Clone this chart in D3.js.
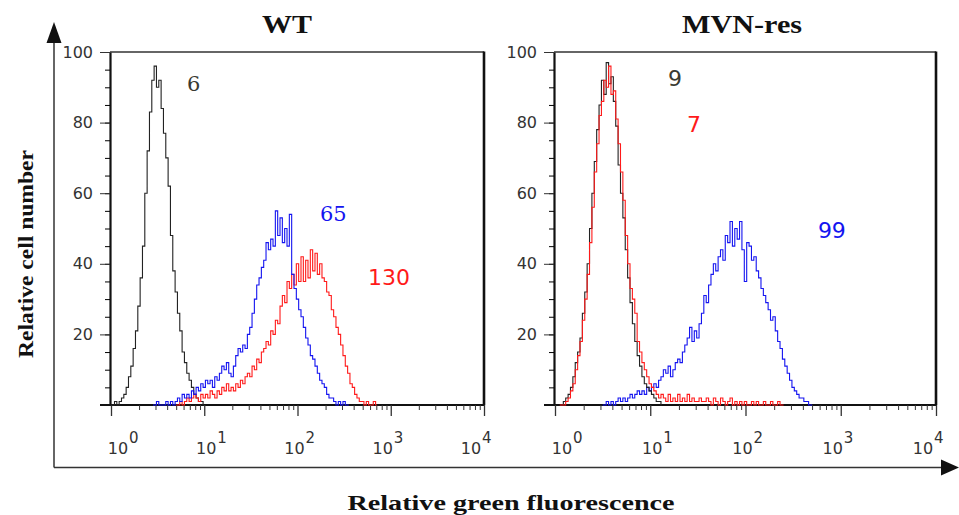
<!DOCTYPE html>
<html>
<head>
<meta charset="utf-8">
<script src="https://d3js.org/d3.v7.min.js"></script>
<style>
  body { margin: 0; background: #fff; }
</style>
</head>
<body>
<script>
// histogram channel width, in decades of fluorescence
var step = 0.025;

// WT panel: log10 start of each series, then counts per channel
var wtControlStart = 0.0;
var wtControl = [0, 0, 1, 0, 1, 2, 3, 5, 8, 11, 16, 21, 28, 36, 45, 60, 72, 83, 92, 96,
  90, 92, 84, 77, 70, 62, 48, 38, 32, 26, 21, 15, 12, 9, 7, 5, 3, 2, 1, 1, 0];

var wtBlueStart = 0.45;
var wtBlue = [0, 0, 1, 0, 0, 0, 1, 0, 1, 0, 1, 2, 1, 3, 2, 3, 2, 4, 3, 5,
  4, 6, 5, 7, 6, 7, 5, 8, 7, 9, 11, 10, 12, 9, 8, 11, 14, 16, 15, 17,
  16, 20, 22, 26, 30, 34, 36, 39, 41, 46, 44, 47, 45, 55, 48, 53, 46, 50, 45, 54,
  37, 33, 30, 27, 25, 22, 19, 17, 14, 13, 11, 9, 7, 6, 5, 3, 2, 2, 1, 0,
  1, 0, 1, 0, 0];

var wtRedStart = 0.7;
var wtRed = [0, 0, 1, 0, 1, 2, 1, 2, 3, 2, 1, 3, 2, 3, 2, 4, 3, 2, 4, 3,
  5, 4, 6, 4, 5, 4, 6, 5, 7, 6, 8, 9, 8, 11, 10, 13, 12, 15, 16, 18,
  17, 21, 20, 24, 23, 28, 31, 29, 35, 33, 37, 34, 40, 35, 42, 35, 41, 36, 44, 38,
  43, 37, 40, 36, 35, 32, 31, 27, 25, 22, 20, 17, 14, 11, 9, 6, 5, 3, 2, 1,
  1, 0, 1, 0, 0, 1, 0];

// MVN-res panel
var mvnControlStart = 0.05;
var mvnControl = [0, 0, 1, 2, 3, 5, 8, 12, 15, 19, 26, 32, 40, 50, 60, 69, 78, 85, 92, 88,
  97, 91, 93, 86, 79, 68, 60, 53, 44, 36, 29, 23, 18, 14, 11, 8, 6, 5, 4, 3,
  2, 1, 1, 0];

var mvnRedStart = 0.05;
var mvnRed = [0, 0, 0, 1, 2, 4, 6, 10, 14, 18, 24, 30, 37, 46, 56, 66, 74, 82, 86, 92,
  90, 96, 88, 89, 81, 74, 66, 58, 48, 40, 33, 30, 26, 18, 15, 12, 10, 8, 6, 5,
  4, 3, 2, 3, 2, 1, 3, 1, 2, 1, 3, 1, 2, 1, 3, 1, 2, 1, 1, 2,
  1, 1, 2, 1, 0, 2, 1, 0, 2, 1, 0, 1, 2, 0, 1, 0, 1, 0, 1, 0,
  0, 1, 0, 1, 0, 0, 1, 0, 0, 1, 0, 0, 1, 0, 0];

var mvnBlueStart = 0.5;
var mvnBlue = [0, 0, 1, 0, 1, 0, 1, 2, 1, 2, 1, 2, 3, 2, 3, 4, 3, 4, 3, 5,
  4, 5, 6, 5, 7, 8, 10, 9, 11, 8, 10, 12, 13, 12, 15, 17, 19, 22, 18, 21,
  19, 23, 26, 31, 29, 34, 37, 40, 38, 42, 44, 41, 48, 46, 52, 45, 50, 47, 52, 44,
  35, 46, 45, 41, 42, 38, 36, 33, 31, 29, 27, 24, 25, 21, 18, 16, 13, 11, 9, 7,
  5, 4, 3, 2, 2, 1, 1, 0, 0];

var panelTitles = ["WT", "MVN-res"];
var decadeExponents = [0, 1, 2, 3, 4];
var yLabelValues = [20, 40, 60, 80, 100];

// geometric mean labels: [text, log10 x, y value]
var wtLabels = [["6", 0.815, 89], ["65", 2.24, 52], ["130", 2.756, 34]];
var mvnLabels = [["9", 1.186, 90.4], ["7", 1.386, 77.3], ["99", 2.76, 47.3]];

var W = 959, H = 515;
var svg = d3.select("body").append("svg")
    .attr("width", W)
    .attr("height", H)
    .style("font-family", "'DejaVu Sans', Verdana, sans-serif");

var panels = [
    {title: panelTitles[0], x0: 111, x1: 484, titleX: 287, titleW: 50,
     series: [[wtControl, wtControlStart, "#222"], [wtRed, wtRedStart, "#ff1a1a"], [wtBlue, wtBlueStart, "#1414f0"]],
     labels: wtLabels},
    {title: panelTitles[1], x0: 555, x1: 936, titleX: 742, titleW: 120,
     series: [[mvnBlue, mvnBlueStart, "#1414f0"], [mvnControl, mvnControlStart, "#222"], [mvnRed, mvnRedStart, "#ff1a1a"]],
     labels: mvnLabels}
];
var labelFonts = {"6": "serif", "65": "serif"};
var labelColors = ["#3a3a32", "#1414f0", "#ff1a1a"];
var mvnLabelColors = ["#3a3a32", "#ff1a1a", "#1414f0"];

var yTop = 52, yBottom = 405;

panels.forEach(function (p, pi) {
    var g = svg.append("g");
    var x = d3.scaleLog().domain([1, 1e4]).range([p.x0, p.x1]);
    var y = d3.scaleLinear().domain([0, 100]).range([yBottom, yTop]);

    // top and right frame
    g.append("line")
        .attr("x1", p.x0 - 1).attr("x2", p.x1)
        .attr("y1", yTop).attr("y2", yTop)
        .attr("stroke", "#333").attr("stroke-width", 1.3);
    g.append("line")
        .attr("x1", p.x1).attr("x2", p.x1)
        .attr("y1", yTop - 0.5).attr("y2", yBottom)
        .attr("stroke", "#111").attr("stroke-width", 2.6);

    // y axis, minor then major ticks
    g.append("g")
        .attr("transform", "translate(" + (p.x0 - 1) + ",0)")
        .call(d3.axisLeft(y).tickValues(d3.range(0, 101, 5)).tickSize(5).tickSizeOuter(0).tickFormat(""))
        .call(function (a) { a.select(".domain").attr("stroke", "#111").attr("stroke-width", 2.2); });
    g.append("g")
        .attr("transform", "translate(" + (p.x0 - 1) + ",0)")
        .call(d3.axisLeft(y).tickValues([0].concat(yLabelValues)).tickSize(10).tickSizeOuter(0).tickPadding(7)
            .tickFormat(function (d) { return d ? d : ""; }))
        .call(function (a) {
            a.select(".domain").remove();
            a.selectAll("line").attr("stroke", "#333");
            a.selectAll("text").attr("font-size", 16).attr("fill", "#333")
                .attr("font-family", "'DejaVu Sans', Verdana, sans-serif");
        });

    // x axis: decades plus minor 2..9
    var minor = [];
    decadeExponents.slice(0, 4).forEach(function (k) {
        d3.range(2, 10).forEach(function (m) { minor.push(m * Math.pow(10, k)); });
    });
    g.append("g")
        .attr("transform", "translate(0," + yBottom + ")")
        .call(d3.axisBottom(x).tickValues(minor).tickSize(5).tickSizeOuter(0).tickFormat(""))
        .call(function (a) {
            a.select(".domain").attr("stroke", "#111").attr("stroke-width", 2.2)
                .attr("d", "M" + (p.x0 - 11) + ",0H" + p.x1);
            a.selectAll("line").attr("stroke", "#333");
        });
    g.append("g")
        .attr("transform", "translate(0," + yBottom + ")")
        .call(d3.axisBottom(x).tickValues(decadeExponents.map(function (k) { return Math.pow(10, k); }))
            .tickSize(11).tickSizeOuter(0).tickFormat(""))
        .call(function (a) {
            a.select(".domain").remove();
            a.selectAll("line").attr("stroke", "#333").attr("stroke-width", 1.3);
        });

    // decade labels 10^k
    decadeExponents.forEach(function (k) {
        var cx = x(Math.pow(10, k)) + 7 - 5 * k;
        g.append("text")
            .attr("x", cx).attr("y", 454)
            .attr("text-anchor", "middle")
            .attr("font-size", 16).attr("fill", "#333")
            .text("10");
        g.append("text")
            .attr("x", cx + 11).attr("y", 443)
            .attr("font-size", 15).attr("fill", "#333")
            .text(k);
    });

    // histograms
    p.series.forEach(function (s) {
        var vals = s[0], start = s[1];
        var line = d3.line()
            .x(function (d, i) { return x(Math.pow(10, start + i * step)); })
            .y(function (d) { return y(d); })
            .curve(d3.curveStep);
        g.append("path")
            .datum(vals)
            .attr("d", line)
            .attr("fill", "none")
            .attr("stroke", s[2])
            .attr("stroke-width", 1.1);
    });

    // mean labels
    var cols = pi === 0 ? labelColors : mvnLabelColors;
    p.labels.forEach(function (l, li) {
        var serif = labelFonts[l[0]] === "serif" && pi === 0;
        g.append("text")
            .attr("x", x(Math.pow(10, l[1])))
            .attr("y", y(l[2]))
            .attr("font-family", serif ? "'DejaVu Serif', serif" : "'DejaVu Sans', Verdana, sans-serif")
            .attr("font-size", serif ? 21 : 22)
            .attr("fill", cols[li])
            .text(l[0]);
    });

    // panel title
    svg.append("text")
        .attr("x", p.titleX).attr("y", 33)
        .attr("text-anchor", "middle")
        .attr("font-family", "'Liberation Serif', 'Times New Roman', serif")
        .attr("font-weight", "bold")
        .attr("font-size", 25)
        .attr("textLength", p.titleW)
        .attr("lengthAdjust", "spacingAndGlyphs")
        .attr("fill", "#111")
        .text(p.title);
});

// outer axes with arrows
svg.append("line")
    .attr("x1", 54).attr("x2", 54).attr("y1", 38).attr("y2", 467.5)
    .attr("stroke", "#333").attr("stroke-width", 1.5);
svg.append("path")
    .attr("d", "M54,22L61.5,43L46.5,43Z")
    .attr("fill", "#111");
svg.append("line")
    .attr("x1", 54).attr("x2", 946).attr("y1", 467.5).attr("y2", 467.5)
    .attr("stroke", "#333").attr("stroke-width", 1.5);
svg.append("path")
    .attr("d", "M959,467.5L941,459.5L941,475.5Z")
    .attr("fill", "#111");

// axis titles
svg.append("text")
    .attr("transform", "translate(33,254) rotate(-90)")
    .attr("text-anchor", "middle")
    .attr("font-family", "'Liberation Serif', 'Times New Roman', serif")
    .attr("font-weight", "bold")
    .attr("font-size", 21)
    .attr("textLength", 208)
    .attr("lengthAdjust", "spacingAndGlyphs")
    .attr("fill", "#111")
    .text("Relative cell number");
svg.append("text")
    .attr("x", 511).attr("y", 510)
    .attr("text-anchor", "middle")
    .attr("font-family", "'Liberation Serif', 'Times New Roman', serif")
    .attr("font-weight", "bold")
    .attr("font-size", 22)
    .attr("textLength", 327)
    .attr("lengthAdjust", "spacingAndGlyphs")
    .attr("fill", "#111")
    .text("Relative green fluorescence");
</script>
</body>
</html>
